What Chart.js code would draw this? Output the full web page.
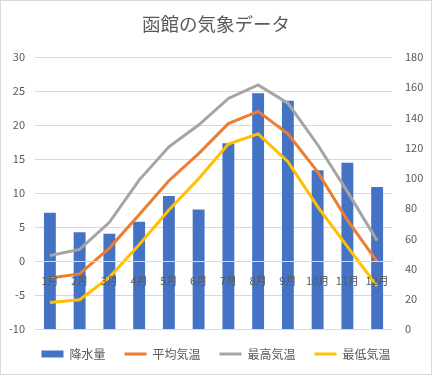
<!DOCTYPE html>
<html>
<head>
<meta charset="utf-8">
<script src="https://cdn.jsdelivr.net/npm/chart.js@4"></script>
<style>
  body { margin: 0; background: #fff; }
  #wrap { width: 432px; height: 375px; box-sizing: border-box; border: 1px solid #d9d9d9; }
</style>
</head>
<body>
<div id="wrap"><canvas id="chart" width="430" height="373"></canvas></div>
<script>
// ------------------ Data ------------------
const months = ["1月", "2月", "3月", "4月", "5月", "6月", "7月", "8月", "9月", "10月", "11月", "12月"];
const rain = [77, 64, 63, 71, 88, 79, 123, 156, 151, 105, 110, 94];       // 降水量 (mm)
const tempAvg = [-2.5, -1.9, 1.9, 6.8, 11.8, 15.8, 20.2, 22.0, 18.7, 13.1, 6.0, -0.1]; // 平均気温
const tempMax = [0.8, 1.7, 5.7, 11.9, 16.8, 20.0, 23.9, 25.9, 23.2, 17.1, 10.2, 3.0];   // 最高気温
const tempMin = [-6.1, -5.7, -2.4, 2.4, 7.5, 12.1, 17.2, 18.7, 14.6, 8.0, 2.1, -3.7];   // 最低気温

const FONT = "'Noto Sans CJK JP', 'Noto Sans', sans-serif";
const TEXT = "#595959";
const GRID = "#d9d9d9";

function lineSet(label, data, color) {
    return {
        type: "line",
        label: label,
        data: data,
        yAxisID: "y",
        borderColor: color,
        backgroundColor: color,
        borderWidth: 3,
        pointRadius: 0,
        tension: 0,
        order: 0,
    };
}

// ------------------ Chart ------------------
const ctx = document.getElementById("chart").getContext("2d");
new Chart(ctx, {
    type: "bar",
    data: {
        labels: months,
        datasets: [
            {
                label: "降水量",
                data: rain,
                yAxisID: "y1",
                backgroundColor: "#4472C4",
                borderWidth: 0,
                barPercentage: 0.4,
                categoryPercentage: 1,
                order: 1,
            },
            lineSet("平均気温", tempAvg, "#ED7D31"),
            lineSet("最高気温", tempMax, "#A5A5A5"),
            lineSet("最低気温", tempMin, "#FFC000"),
        ],
    },
    options: {
        responsive: false,
        animation: false,
        layout: { padding: { top: 0, left: 0, right: 0, bottom: 4 } },
        plugins: {
            tooltip: { enabled: false },
            title: {
                display: true,
                text: "函館の気象データ",
                color: TEXT,
                font: { family: FONT, size: 18.5, weight: "normal" },
                padding: { top: 12, bottom: 21.8 },
            },
            legend: {
                position: "bottom",
                labels: {
                    color: TEXT,
                    font: { family: FONT, size: 12 },
                    usePointStyle: true,
                    pointStyleWidth: 22,
                    boxHeight: 7,
                    padding: 19,
                    sort: (a, b) => a.datasetIndex - b.datasetIndex,
                    generateLabels: (chart) => {
                        return chart.data.datasets.map((ds, i) => ({
                            text: ds.label,
                            datasetIndex: i,
                            fillStyle: ds.type === "line" ? ds.borderColor : ds.backgroundColor,
                            strokeStyle: ds.type === "line" ? ds.borderColor : ds.backgroundColor,
                            lineWidth: ds.type === "line" ? 3 : 0,
                            pointStyle: ds.type === "line" ? "line" : "rect",
                            fontColor: TEXT,
                            hidden: false,
                        }));
                    },
                },
            },
        },
        scales: {
            x: {
                position: { y: 0 },
                grid: { display: false, drawTicks: false },
                border: { display: true, color: GRID, width: 1, z: 1 },
                ticks: { color: TEXT, font: { family: FONT, size: 11 }, padding: 13, maxRotation: 0, autoSkip: false, z: 1 },
            },
            y: {
                position: "left",
                min: -10,
                max: 30,
                ticks: { stepSize: 5, color: TEXT, font: { family: FONT, size: 11 }, padding: 10 },
                grid: { color: GRID, lineWidth: 1, drawTicks: false },
                border: { display: false },
                afterFit: (scale) => { scale.width = 34; },
            },
            y1: {
                position: "right",
                min: 0,
                max: 180,
                ticks: { stepSize: 20, color: TEXT, font: { family: FONT, size: 11 }, padding: 13 },
                grid: { display: false, drawTicks: false },
                border: { display: false },
                afterFit: (scale) => { scale.width = 39; },
            },
        },
    },
});
</script>
</body>
</html>
